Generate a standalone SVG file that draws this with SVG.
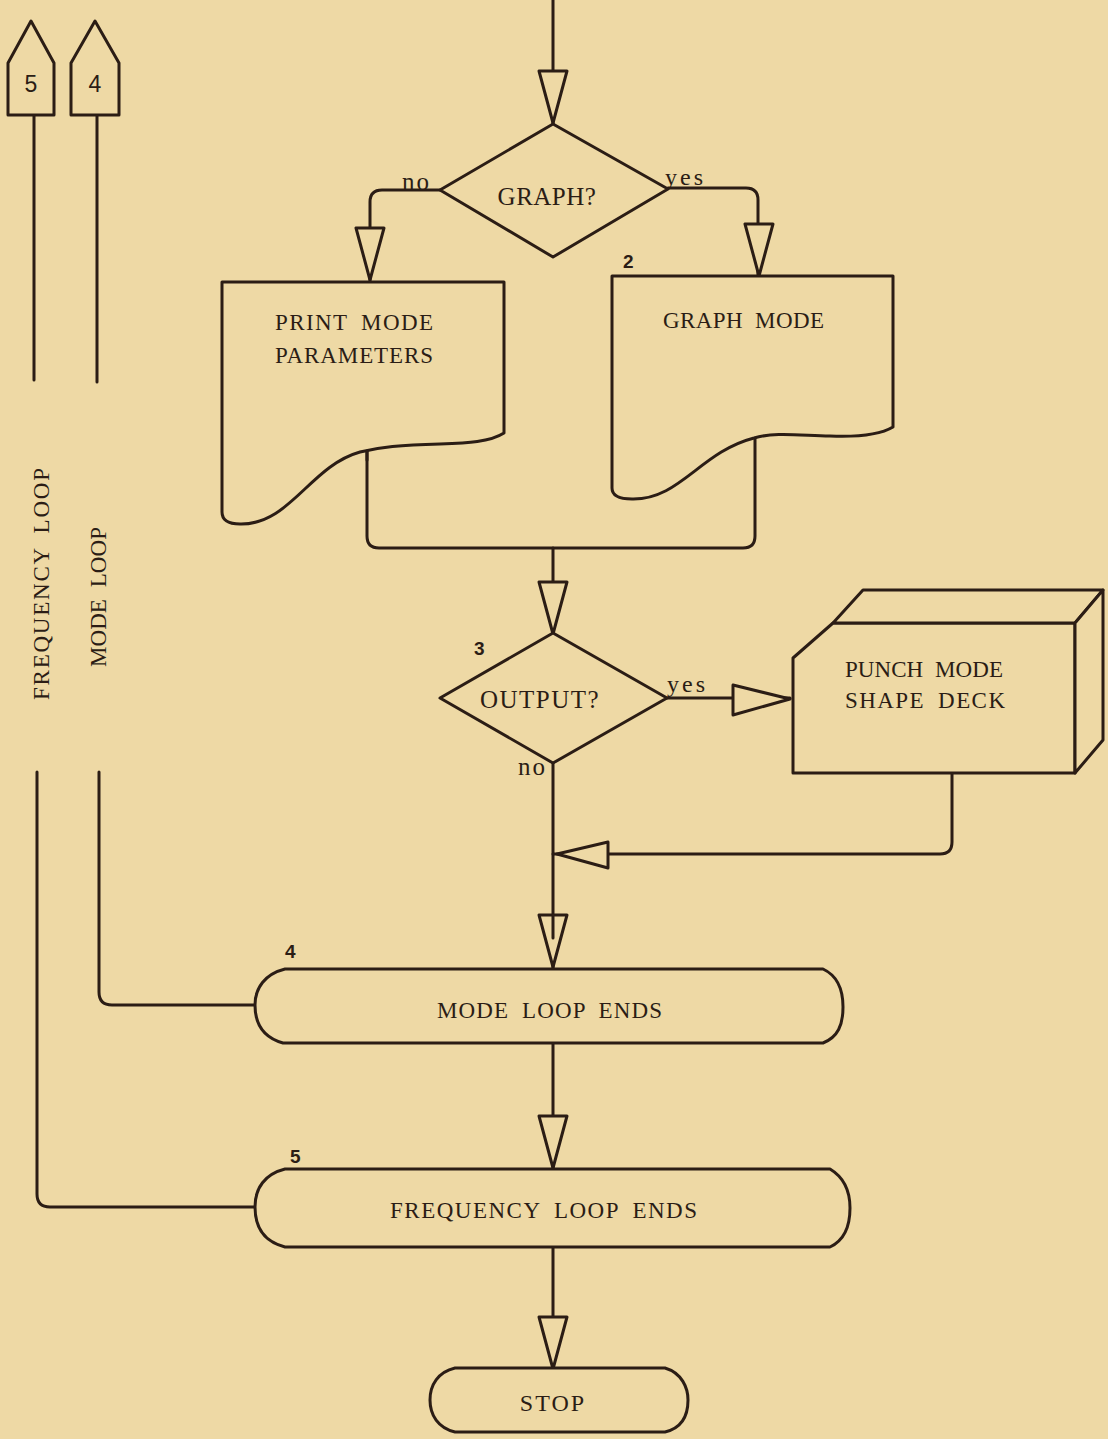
<svg xmlns="http://www.w3.org/2000/svg" xmlns:xlink="http://www.w3.org/1999/xlink" width="1108" height="1439" viewBox="0 0 1108 1439">
<style>
.ln{fill:none;stroke:#2b1d15;stroke-width:3;stroke-linejoin:round;stroke-linecap:round}
.sh{fill:#eed9a5;stroke:#2b1d15;stroke-width:3;stroke-linejoin:round}
.tw{font-family:"Liberation Serif","Times New Roman",serif;font-size:23px;word-spacing:6px;fill:#2b1d15}
.sf{font-family:"Liberation Serif","Times New Roman",serif;fill:#2b1d15}
.num{font-family:"Liberation Sans",Arial,sans-serif;font-weight:bold;font-size:19px;fill:#2b1d15}
.pn{font-family:"Liberation Sans",Arial,sans-serif;font-size:23px;fill:#2b1d15}
</style>
<defs>
<path id="ad" class="sh" d="M-14,0 L14,0 L0,52 Z"/>
</defs>
<rect width="1108" height="1439" fill="#eed9a5"/>

<g id="connectors">
<path class="ln" d="M553,0 V124"/>
<path class="ln" d="M440,190 H382 Q370,190 370,202 V280"/>
<path class="ln" d="M668,188 H746 Q758,188 758,200 V275"/>
<path class="ln" d="M367,450 V536 Q367,548 379,548 H743 Q755,548 755,536 V438"/>
<path class="ln" d="M553,548 V633"/>
<path class="ln" d="M667,698 H790"/>
<path class="ln" d="M553,763 V968"/>
<path class="ln" d="M952,773 V842 Q952,854 940,854 H553"/>
<path class="ln" d="M553,1044 V1169"/>
<path class="ln" d="M553,1247 V1368"/>
<path class="ln" d="M99,772 V992 Q99,1005 112,1005 H255"/>
<path class="ln" d="M37,772 V1194 Q37,1207 50,1207 H255"/>
<path class="ln" d="M34,115 V380"/>
<path class="ln" d="M97,115 V382"/>
<use xlink:href="#ad" x="553" y="71"/>
<use xlink:href="#ad" x="370" y="228"/>
<use xlink:href="#ad" x="759" y="224"/>
<use xlink:href="#ad" x="553" y="582"/>
<use xlink:href="#ad" x="553" y="915"/>
<path class="ln" d="M553,915 V938"/>
<use xlink:href="#ad" x="553" y="1116"/>
<use xlink:href="#ad" x="553" y="1317"/>
<path class="sh" d="M733,685 L733,715 L790,699 Z"/>
<path class="sh" d="M608,842 L608,868 L557,854 Z"/>
<text class="sf" x="402" y="190" font-size="25" letter-spacing="2">no</text>
<text class="sf" x="665" y="185" font-size="24" letter-spacing="3">yes</text>
<text class="sf" x="667" y="692" font-size="24" letter-spacing="3">yes</text>
<text class="sf" x="518" y="775" font-size="25" letter-spacing="2">no</text>
</g>

<g id="conn5">
<path class="sh" d="M8,115 V63 L31,21 L54,63 V115 Z"/>
<text class="pn" x="31" y="92" text-anchor="middle">5</text>
</g>
<g id="conn4">
<path class="sh" d="M71,115 V63 L95,21 L119,63 V115 Z"/>
<text class="pn" x="95" y="92" text-anchor="middle">4</text>
</g>

<g id="freqLoopLabel">
<text class="tw" transform="translate(49,700) rotate(-90)" textLength="232" lengthAdjust="spacing">FREQUENCY LOOP</text>
</g>
<g id="modeLoopLabel">
<text class="tw" transform="translate(106,667) rotate(-90)" textLength="140" lengthAdjust="spacing">MODE LOOP</text>
</g>

<g id="graphDecision">
<path class="sh" d="M553,124 L668,189 L553,257 L440,190 Z"/>
<text class="sf" x="547" y="205" font-size="25" text-anchor="middle" letter-spacing="0.5">GRAPH?</text>
</g>

<g id="printMode">
<path class="sh" d="M222,282 H504 V433 C490,442 468,443 440,444 C400,445 380,447 360,452 C310,466 290,525 240,524 Q222,524 222,512 Z"/>
<text class="tw" x="275" y="330" textLength="158" lengthAdjust="spacing">PRINT MODE</text>
<text class="tw" x="275" y="363" textLength="158" lengthAdjust="spacing">PARAMETERS</text>
<path class="ln" d="M367,451 V460"/>
</g>

<g id="graphMode">
<text class="num" x="623" y="268">2</text>
<path class="sh" d="M612,276 H893 V427 C878,436 855,437 830,436 C795,435 775,432 754,438 C700,452 680,500 632,499 Q612,499 612,488 Z"/>
<text class="tw" x="663" y="328" textLength="161" lengthAdjust="spacing">GRAPH MODE</text>
</g>

<g id="outputDecision">
<text class="num" x="474" y="655">3</text>
<path class="sh" d="M553,633 L667,698 L553,763 L440,698 Z"/>
<text class="sf" x="540" y="708" font-size="25" text-anchor="middle" letter-spacing="1.5">OUTPUT?</text>
</g>

<g id="punchDeck">
<path class="sh" d="M793,658 L833,623 H1075 V773 H793 Z"/>
<path class="sh" d="M833,623 L863,590 H1103 L1075,623 Z"/>
<path class="sh" d="M1103,590 V740 L1075,773 V623 Z"/>
<text class="tw" x="845" y="677" textLength="158" lengthAdjust="spacing">PUNCH MODE</text>
<text class="tw" x="845" y="708" textLength="160" lengthAdjust="spacing">SHAPE DECK</text>
</g>

<g id="modeLoopEnds">
<text class="num" x="285" y="958">4</text>
<path class="sh" d="M285,969 H823 C838,976 843,990 843,1007 C843,1025 838,1037 823,1043 H283 C265,1038 255,1025 255,1005 C255,988 265,974 285,969 Z"/>
<text class="tw" x="437" y="1018" textLength="225" lengthAdjust="spacing">MODE LOOP ENDS</text>
</g>

<g id="freqLoopEnds">
<text class="num" x="290" y="1163">5</text>
<path class="sh" d="M285,1169 H830 C845,1178 850,1192 850,1208 C850,1226 845,1240 830,1247 H285 C265,1242 255,1228 255,1207 C255,1188 265,1174 285,1169 Z"/>
<text class="tw" x="390" y="1218" textLength="307" lengthAdjust="spacing">FREQUENCY LOOP ENDS</text>
</g>

<g id="stop">
<path class="sh" d="M455,1368 H665 C682,1373 688,1388 688,1400 C688,1415 682,1428 665,1432 H455 C438,1428 430,1415 430,1400 C430,1385 438,1372 455,1368 Z"/>
<text class="sf" x="553" y="1411" font-size="24" text-anchor="middle" letter-spacing="2">STOP</text>
</g>
</svg>
